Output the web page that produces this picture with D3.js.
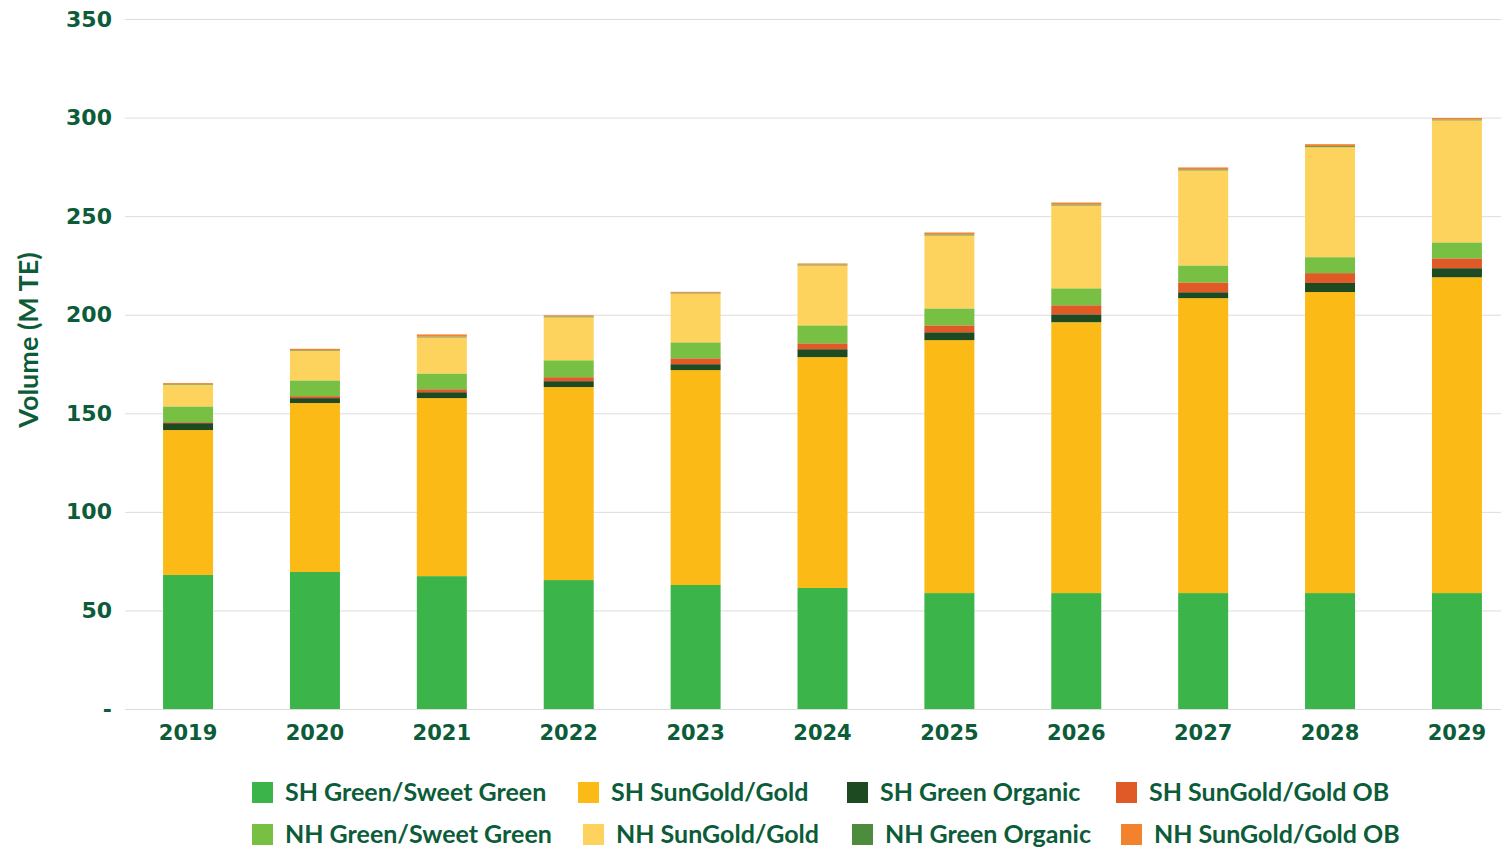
<!DOCTYPE html>
<html>
<head>
<meta charset="utf-8">
<script src="https://cdn.jsdelivr.net/npm/d3@7"></script>
<style>
  html, body { margin: 0; padding: 0; background: #ffffff; }
  svg { display: block; }
</style>
</head>
<body>
<svg id="chart" width="1501" height="849"></svg>
<script>
// ---------- DATA ----------
const years = ["2019","2020","2021","2022","2023","2024","2025","2026","2027","2028","2029"];
const seriesNames = [
  "SH Green/Sweet Green", "SH SunGold/Gold", "SH Green Organic", "SH SunGold/Gold OB",
  "NH Green/Sweet Green", "NH SunGold/Gold", "NH Green Organic", "NH SunGold/Gold OB"
];
const shGreen        = [68.0, 69.5, 67.4, 65.4, 62.9, 61.4, 58.8, 58.8, 58.8, 58.8, 58.8];
const shSunGold      = [73.5, 85.7, 90.3, 97.9, 109.0, 117.1, 128.3, 137.4, 149.6, 152.7, 160.2];
const shGreenOrganic = [3.5, 2.5, 3.0, 3.0, 3.0, 4.0, 4.0, 4.0, 3.0, 4.6, 4.6];
const shSunGoldOB    = [0.5, 1.0, 1.5, 2.0, 3.0, 3.0, 3.5, 4.6, 5.0, 5.0, 5.0];
const nhGreen        = [8.0, 8.0, 8.0, 8.6, 8.1, 9.1, 8.6, 8.6, 8.6, 8.1, 8.1];
const nhSunGold      = [11.0, 15.0, 18.3, 21.8, 24.8, 30.4, 37.0, 42.0, 48.2, 55.8, 61.9];
const nhGreenOrganic = [0.3, 0.3, 0.4, 0.4, 0.3, 0.4, 0.5, 0.5, 0.5, 0.5, 0.4];
const nhSunGoldOB    = [0.5, 0.7, 1.1, 0.6, 0.5, 0.6, 1.0, 1.0, 1.0, 1.0, 0.8];
const yTicks = [0, 50, 100, 150, 200, 250, 300, 350];
const yTickLabels = ["-", "50", "100", "150", "200", "250", "300", "350"];
const yTitle = "Volume (M TE)";

const seriesValues = [shGreen, shSunGold, shGreenOrganic, shSunGoldOB, nhGreen, nhSunGold, nhGreenOrganic, nhSunGoldOB];
const colors = ["#3bb54a", "#fbba16", "#1e4a22", "#df5a26", "#78c044", "#fdd35d", "#4d8b3d", "#f2822c"];

// ---------- BUILD TABLE ----------
const table = years.map((y, i) => {
  const row = { year: y };
  seriesNames.forEach((s, k) => { row[s] = seriesValues[k][i]; });
  return row;
});
const stacked = d3.stack().keys(seriesNames)(table);

// ---------- LAYOUT ----------
const svg = d3.select("#chart");
const textColor = "#0c5c39";
const plotLeft = 125, plotRight = 1501;
const yTop = 19, yBottom = 709;

const x = d3.scaleBand().domain(years).range([125, 1520]).paddingInner(0.606).paddingOuter(0.3);
const y = d3.scaleLinear().domain([0, 350]).range([yBottom, yTop]);

// gridlines
const yAxis = d3.axisLeft(y).tickValues(yTicks)
  .tickSize(-(plotRight - plotLeft))
  .tickFormat((d, i) => yTickLabels[i]).tickPadding(13);
const gy = svg.append("g").attr("transform", `translate(${plotLeft},0)`).call(yAxis);
gy.select(".domain").remove();
gy.selectAll(".tick line").attr("stroke", "#dcdcdc").attr("stroke-width", 1);
gy.selectAll(".tick text")
  .attr("fill", textColor)
  .style("font-family", "'DejaVu Sans', sans-serif")
  .style("font-weight", "bold")
  .style("font-size", "22px");

// bars
const layers = svg.append("g").selectAll("g").data(stacked).join("g")
  .attr("fill", (d, i) => colors[i]);
layers.selectAll("rect").data(d => d).join("rect")
  .attr("x", d => x(d.data.year))
  .attr("width", x.bandwidth())
  .attr("y", d => y(d[1]))
  .attr("height", d => Math.max(0, y(d[0]) - y(d[1])));

// x axis labels
const xAxis = d3.axisBottom(x).tickSize(0).tickPadding(16);
const gx = svg.append("g").attr("transform", `translate(0,${yBottom})`).call(xAxis);
gx.select(".domain").remove();
gx.selectAll(".tick text")
  .attr("fill", textColor)
  .style("font-family", "'DejaVu Sans', sans-serif")
  .style("font-weight", "bold")
  .style("font-size", "21px");

// y title
svg.append("text")
  .attr("transform", `translate(38,340) rotate(-90)`)
  .attr("text-anchor", "middle")
  .attr("fill", textColor)
  .style("font-family", "Lato, sans-serif")
  .style("font-weight", "bold")
  .style("font-size", "27px")
  .text(yTitle);

// legend
const colX = [252, 578, 847, 1116];
const row2Shift = [0, 5, 5, 5];
const rowY = [792, 834];
const leg = svg.append("g");
seriesNames.forEach((name, k) => {
  const row = k < 4 ? 0 : 1;
  const col = k % 4;
  const lx = colX[col] + (row === 1 ? row2Shift[col] : 0);
  const ly = rowY[row];
  leg.append("rect")
    .attr("x", lx).attr("y", ly - 10).attr("width", 21).attr("height", 21)
    .attr("fill", colors[k]);
  leg.append("text")
    .attr("x", lx + 33).attr("y", ly + 9)
    .attr("fill", textColor)
    .style("font-family", "Lato, sans-serif")
    .style("font-weight", "bold")
    .style("font-size", "25px")
    .text(name);
});
</script>
</body>
</html>
